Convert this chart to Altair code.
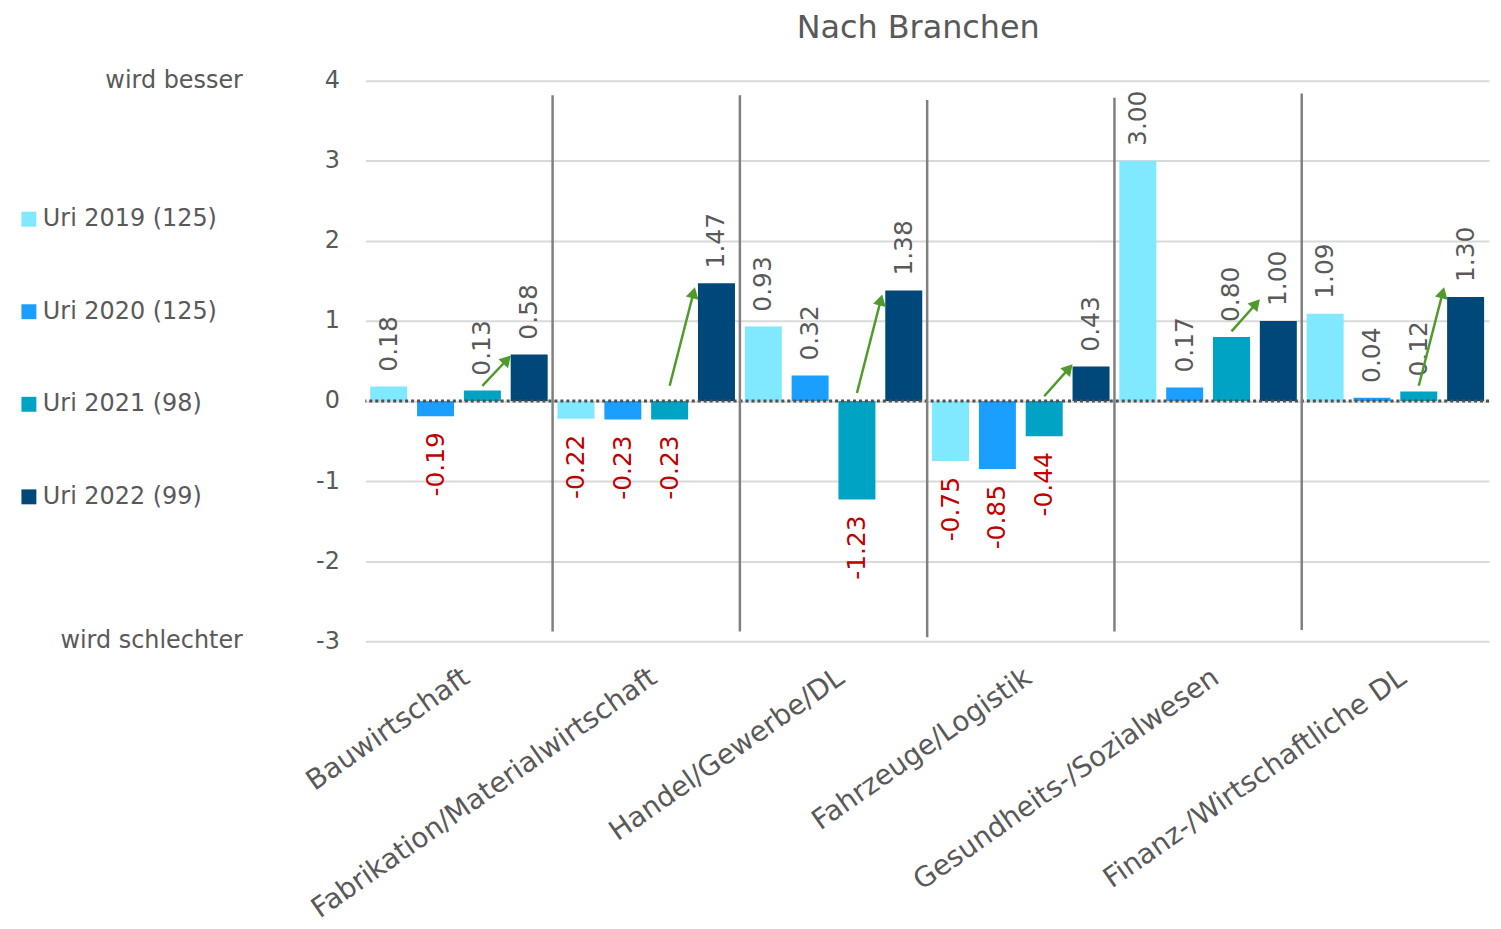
import math
import altair as alt
import pandas as pd

# ---------------- data ----------------
categories = [
    "Bauwirtschaft",
    "Fabrikation/Materialwirtschaft",
    "Handel/Gewerbe/DL",
    "Fahrzeuge/Logistik",
    "Gesundheits-/Sozialwesen",
    "Finanz-/Wirtschaftliche DL",
]
series = ["Uri 2019 (125)", "Uri 2020 (125)", "Uri 2021 (98)", "Uri 2022 (99)"]
colors = ["#80E8FF", "#1A9FFF", "#00A3C3", "#00477A"]

v2019 = [0.18, -0.22, 0.93, -0.75, 3.00, 1.09]
v2020 = [-0.19, -0.23, 0.32, -0.85, 0.17, 0.04]
v2021 = [0.13, -0.23, -1.23, -0.44, 0.80, 0.12]
v2022 = [0.58, 1.47, 1.38, 0.43, 1.00, 1.30]

# green arrows (from near the 2021 bar towards the 2022 bar), y-values
arrow_from = [0.19, 0.19, 0.10, 0.06, 0.87, 0.19]
arrow_to = [0.50, 1.33, 1.24, 0.39, 1.20, 1.33]

# vertical separators between the groups (top / bottom)
sep_top = [3.82, 3.82, 3.76, 3.79, 3.84]
sep_bottom = [-2.88, -2.88, -2.95, -2.88, -2.86]

y_ticks = [-3, -2, -1, 0, 1, 2, 3, 4]
side_labels = ["wird besser", "wird schlechter"]
side_values = [4, -3]

# ---------------- layout ----------------
W, H = 1129, 563
GREY = "#595959"
RED = "#C00000"
GREEN = "#4F9A2B"
FONT = "DejaVu Sans"

rows = []
for s, vals in zip(series, [v2019, v2020, v2021, v2022]):
    for c, v in zip(categories, vals):
        rows.append({"Branche": c, "Serie": s, "Wert": v, "Label": f"{v:.2f}"})
df = pd.DataFrame(rows)

df_sep = pd.DataFrame({"Branche": categories[1:], "top": sep_top, "bottom": sep_bottom})
df_side = pd.DataFrame({"text": side_labels, "y": side_values})
df_zero = pd.DataFrame({"y": [0]})

n_groups = len(categories)
px_x = W / n_groups
px_y = H / (max(y_ticks) - min(y_ticks))
arows = []
for i, (a, b) in enumerate(zip(arrow_from, arrow_to)):
    x0 = i + 2.5 / len(series)
    x1 = i + 3.0 / len(series)
    ang = math.degrees(math.atan2((x1 - x0) * px_x, (b - a) * px_y))
    arows.append({"x0": x0, "x1": x1, "y0": a, "y1": b, "ang": ang})
df_arrow = pd.DataFrame(arows)

x_band = alt.Scale(domain=categories, paddingInner=0, paddingOuter=0)
x_off = alt.XOffset(
    "Serie:N", sort=series,
    scale=alt.Scale(domain=series, paddingInner=0.21, paddingOuter=0.105),
)
y_scale = alt.Scale(domain=[-3, 4], nice=False)

bars = alt.Chart(df).mark_bar().encode(
    x=alt.X(
        "Branche:N", sort=categories, scale=x_band, title=None,
        axis=alt.Axis(
            labelAngle=-35, labelFontSize=28, labelColor=GREY, labelPadding=22,
            labelLimit=1000, domain=False, ticks=False, grid=False,
        ),
    ),
    xOffset=x_off,
    y=alt.Y(
        "Wert:Q", scale=y_scale, title=None,
        axis=alt.Axis(
            values=y_ticks, labelFontSize=24, labelColor=GREY, labelPadding=26,
            domain=False, ticks=False, grid=True, gridColor="#D9D9D9", gridWidth=2,
            labelExpr="'' + datum.value",
        ),
    ),
    color=alt.Color(
        "Serie:N", sort=series, scale=alt.Scale(domain=series, range=colors),
        legend=alt.Legend(
            orient="none", legendX=-350, legendY=127, title=None,
            symbolType="square", symbolSize=225, symbolStrokeWidth=0,
            labelFontSize=24, labelColor=GREY, labelOffset=2, rowPadding=69,
            labelLimit=1000,
        ),
    ),
)

pos_labels = alt.Chart(df).transform_filter("datum.Wert >= 0").mark_text(
    angle=270, align="left", baseline="middle", dx=15, fontSize=25, color=GREY
).encode(
    x=alt.X("Branche:N", sort=categories, scale=x_band),
    xOffset=x_off,
    y=alt.Y("Wert:Q", scale=y_scale),
    text="Label:N",
)

neg_labels = alt.Chart(df).transform_filter("datum.Wert < 0").mark_text(
    angle=270, align="right", baseline="middle", dx=-16, fontSize=25, color=RED
).encode(
    x=alt.X("Branche:N", sort=categories, scale=x_band),
    xOffset=x_off,
    y=alt.Y("Wert:Q", scale=y_scale),
    text="Label:N",
)

seps = alt.Chart(df_sep).mark_rule(color="#808080", strokeWidth=2.5).encode(
    x=alt.X("Branche:N", sort=categories, scale=x_band, bandPosition=0),
    y=alt.Y("top:Q", scale=y_scale),
    y2="bottom:Q",
)

zero_rule = alt.Chart(df_zero).mark_rule(
    color="#505050", strokeWidth=3, strokeDash=[3, 3]
).encode(y=alt.Y("y:Q", scale=y_scale))

side = alt.Chart(df_side).mark_text(
    align="right", baseline="middle", fontSize=24, color=GREY
).encode(
    x=alt.value(-123),
    y=alt.Y("y:Q", scale=y_scale),
    text="text:N",
)

x_lin = alt.Scale(domain=[0, n_groups], nice=False, zero=False)
arrow_line = alt.Chart(df_arrow).mark_rule(color=GREEN, strokeWidth=2.5).encode(
    x=alt.X("x0:Q", scale=x_lin, axis=None),
    x2="x1:Q",
    y=alt.Y("y0:Q", scale=y_scale),
    y2="y1:Q",
)
arrow_head = alt.Chart(df_arrow).mark_point(
    shape="triangle", filled=True, color=GREEN, size=170, opacity=1
).encode(
    x=alt.X("x1:Q", scale=x_lin, axis=None),
    y=alt.Y("y1:Q", scale=y_scale),
    angle=alt.Angle("ang:Q", scale=None),
)

base = alt.layer(bars, zero_rule, pos_labels, neg_labels, seps, side)
arrows = alt.layer(arrow_line, arrow_head)

chart = alt.layer(base, arrows).resolve_scale(x="independent").properties(
    width=W,
    height=H,
    autosize=alt.AutoSizeParams(type="none"),
    padding={"left": 359, "top": 71, "right": 4, "bottom": 282},
    title=alt.TitleParams(
        "Nach Branchen", fontSize=32, color=GREY, fontWeight="normal",
        dx=-9, offset=24, font=FONT,
    ),
).configure(font=FONT).configure_view(stroke=None)

chart.save("out.html", embed_options={"renderer": "svg", "actions": False})
